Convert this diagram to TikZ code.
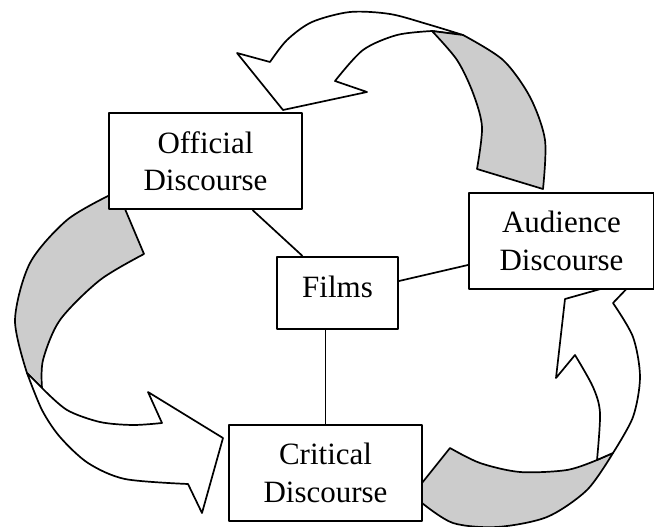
\documentclass[tikz,border=0pt]{standalone}
\usepackage{fontspec}
\setmainfont{Liberation Serif}
\begin{document}
\begin{tikzpicture}[x=1pt,y=-1pt,line join=round,
  box/.style={draw,line width=2pt,fill=white,inner sep=0pt,align=center,
    font=\fontsize{31}{37.5}\selectfont},
  band/.style={draw,line width=1.7pt,fill=white},
  twist/.style={draw,line width=1.7pt,fill=black!20},
  link/.style={line width=1.7pt}]
\useasboundingbox (0,0) rectangle (654,527);
% top arrow: Audience -> Official
\path[band] plot[smooth] coordinates {(463,35) (427,24) (390,14) (350,12) (312,22) (287,40) (270,62)}
  -- (237,53) -- (283,110) -- (367,92) -- (335,81)
  -- plot[smooth] coordinates {(335,81) (363,50) (397,35) (432,31)} -- cycle;
\path[twist] plot[smooth] coordinates {(432,31) (457,60) (473,93) (482,127) (477,169)}
  -- (543,189)
  -- plot[smooth] coordinates {(543,189) (545,140) (530,97) (503,60) (463,35)} -- cycle;
% left arrow: Official -> Critical
\path[twist] plot[smooth] coordinates {(110,195) (67,220) (30,263) (15,320) (27,373)}
  -- (42,388)
  -- plot[smooth] coordinates {(42,388) (43,360) (60,320) (100,280) (144,254)}
  -- (125,209) -- (118,200) -- cycle;
\path[band] plot[smooth] coordinates {(27,373) (42,410) (60,437) (88,463) (125,479) (188,484)}
  -- (202,513) -- (223,438) -- (148,392) -- (162,423)
  -- plot[smooth] coordinates {(162,423) (133,425) (100,422) (67,410) (42,388)} -- cycle;
% right arrow: Critical -> Audience
\path[twist] (415,495) -- (422,483) -- (450,448)
  -- plot[smooth] coordinates {(450,448) (480,463) (520,472) (567,470) (597,460)}
  -- (613,453)
  -- plot[smooth] coordinates {(613,453) (587,490) (547,517) (497,527) (453,523) (422,503)} -- cycle;
\path[band] plot[smooth] coordinates {(597,460) (600,413) (593,387) (575,355)}
  -- (556,378) -- (565,299) -- (636,279) -- (613,303)
  -- plot[smooth] coordinates {(613,303) (633,337) (640,377) (633,417) (613,453)} -- cycle;
% boxes
\node[box,minimum width=193pt,minimum height=96pt] (off) at (205.5,161) {Official\\Discourse};
\node[box,minimum width=185pt,minimum height=96pt] (aud) at (561.5,241) {Audience\\Discourse};
\node[box,minimum width=193pt,minimum height=96pt] (crit) at (325.5,473) {Critical\\Discourse};
\node[box,minimum width=121pt,minimum height=72pt,text depth=13pt] (films) at (337.5,293) {Films};
% connectors
\draw[link] ([xshift=47pt]off.south) -- ([xshift=-35pt]films.north);
\draw[link] ([yshift=12pt]films.east) -- ([yshift=-24pt]aud.west);
\draw[link] (crit.north) -- (crit.north |- films.south);
\end{tikzpicture}
\end{document}
